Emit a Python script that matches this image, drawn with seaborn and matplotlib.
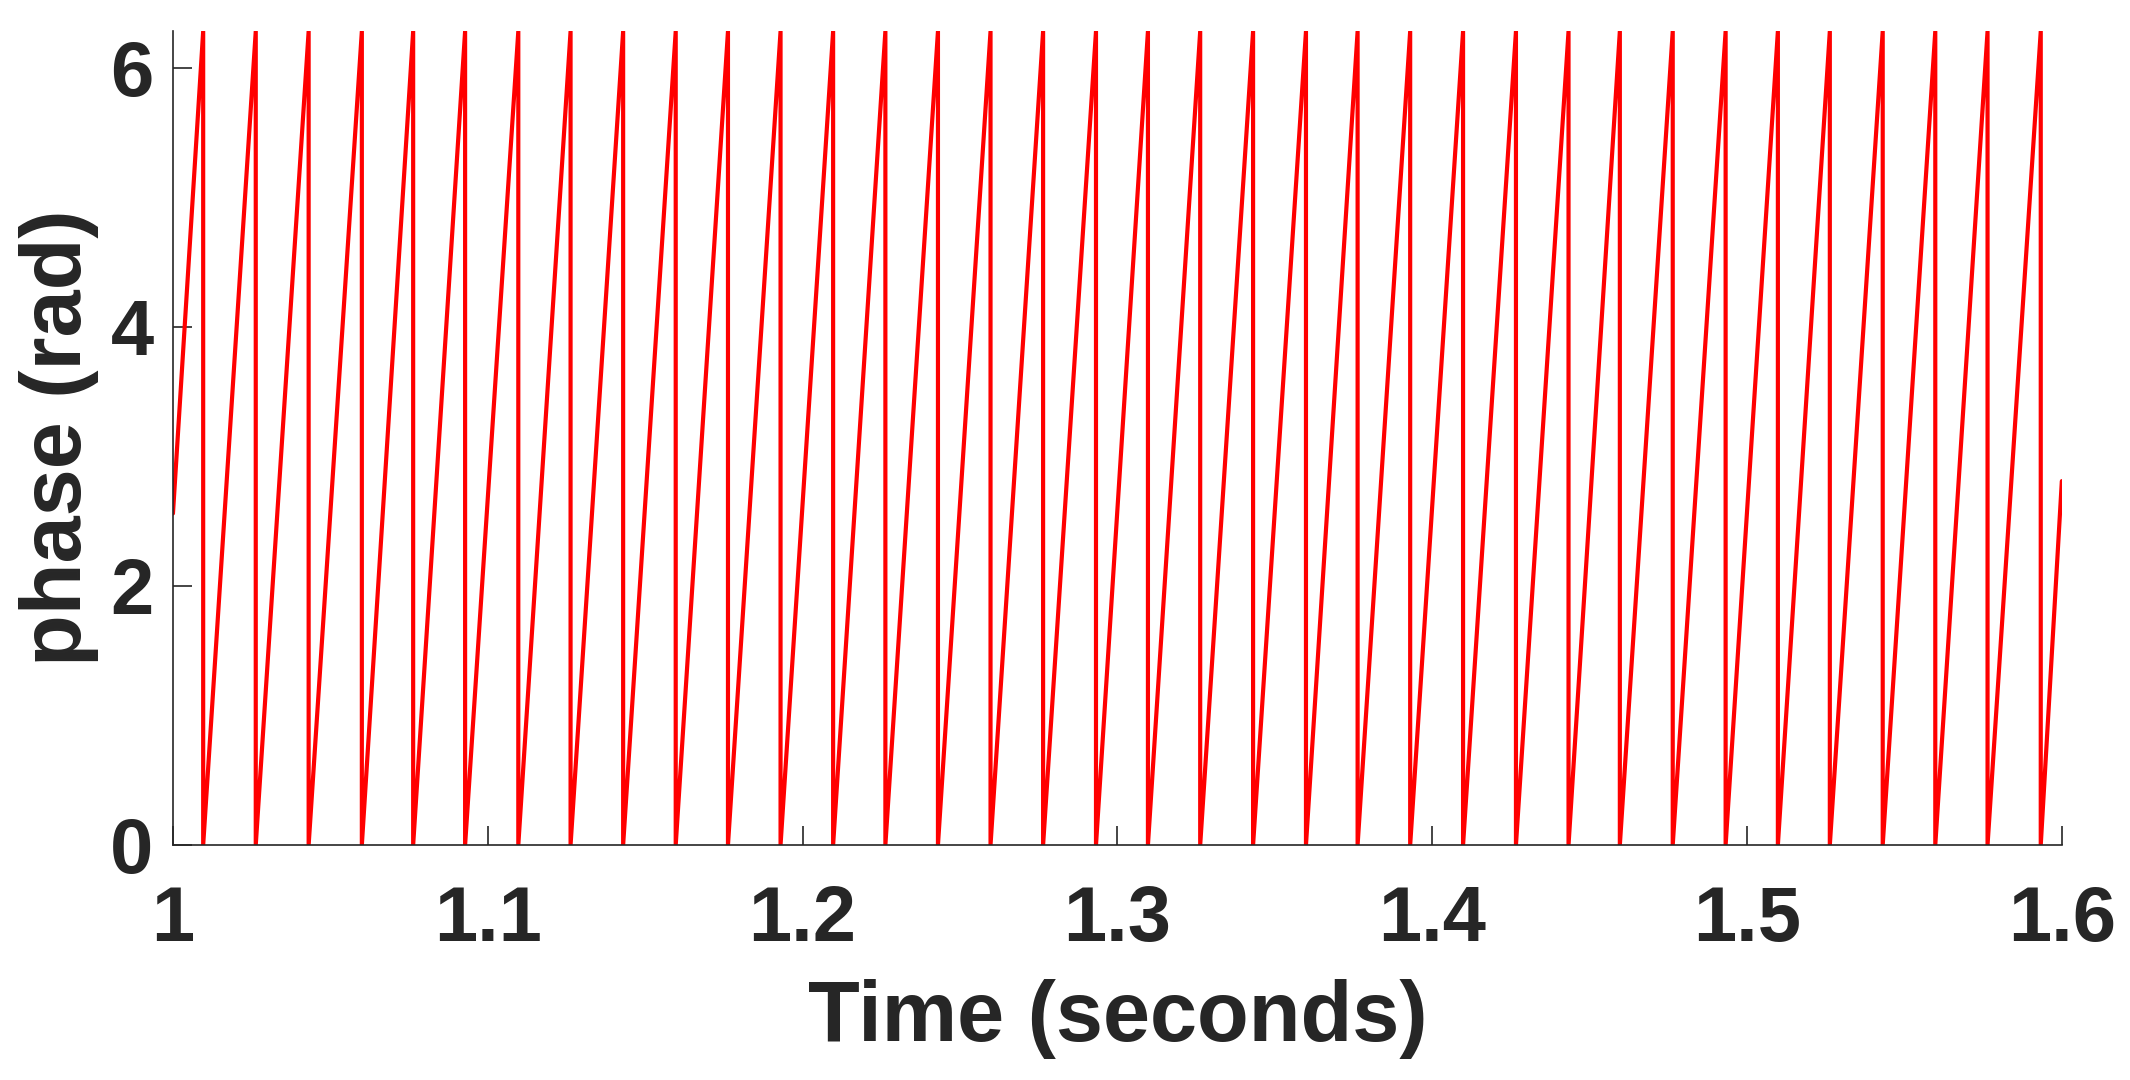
import numpy as np
import pandas as pd
import matplotlib
matplotlib.use("Agg")
import matplotlib.pyplot as plt
import seaborn as sns

# wrap times (s): phase jumps from 2*pi back to 0
wrap_times = [1.0096, 1.0263, 1.0431, 1.0600, 1.0763, 1.0928, 1.1097,
              1.1263, 1.1430, 1.1597, 1.1763, 1.1930, 1.2097, 1.2263,
              1.2430, 1.2597, 1.2764, 1.2932, 1.3097, 1.3263, 1.3431,
              1.3599, 1.3763, 1.3930, 1.4098, 1.4266, 1.4433, 1.4596,
              1.4764, 1.4932, 1.5098, 1.5263, 1.5431, 1.5598, 1.5764,
              1.5933]
t_start, phase_start = 1.0, 2.56
t_end, phase_end = 1.6, 2.81
phase_top = 2 * np.pi
phase_bottom = 0.0

xticks = [1.0, 1.1, 1.2, 1.3, 1.4, 1.5, 1.6]
xtick_labels = ["1", "1.1", "1.2", "1.3", "1.4", "1.5", "1.6"]
yticks = [0, 2, 4, 6]

# build the sawtooth trace from the wrap points
t = [t_start]
ph = [phase_start]
for w in wrap_times:
    t += [w, w]
    ph += [phase_top, phase_bottom]
t.append(t_end)
ph.append(phase_end)
df = pd.DataFrame({"time": t, "phase": ph})

sns.set_theme(style="ticks")
plt.rcParams['font.family'] = ['Liberation Sans', 'DejaVu Sans']
plt.rcParams['font.weight'] = 'bold'
ink = "#262626"

fig, ax = plt.subplots(figsize=(10.65, 5.4), dpi=200)
fig.subplots_adjust(left=0.0812, right=0.968, bottom=0.2176, top=0.971)

sns.lineplot(data=df, x="time", y="phase", sort=False, estimator=None,
             color="#ff0000", linewidth=1.5, ax=ax)

ax.set_xlim(1.0, 1.6)
ax.set_ylim(0, 2 * np.pi)
ax.set_xticks(xticks)
ax.set_xticklabels(xtick_labels)
ax.set_yticks(yticks)
ax.tick_params(axis="both", direction="in", length=6.8, width=0.6,
               color=ink, labelcolor=ink, labelsize=28)
ax.tick_params(axis="x", pad=14)
ax.tick_params(axis="y", pad=7)
for lab in ax.get_xticklabels() + ax.get_yticklabels():
    lab.set_fontweight("bold")

sns.despine(ax=ax)
for s in ["left", "bottom"]:
    ax.spines[s].set_color(ink)
    ax.spines[s].set_linewidth(0.6)

ax.set_xlabel("Time (seconds)", fontsize=30.5, fontweight="bold",
              color=ink, labelpad=8)
ax.set_ylabel("phase (rad)", fontsize=30.5, fontweight="bold",
              color=ink, labelpad=4)

fig.savefig("out.png", dpi=200)
